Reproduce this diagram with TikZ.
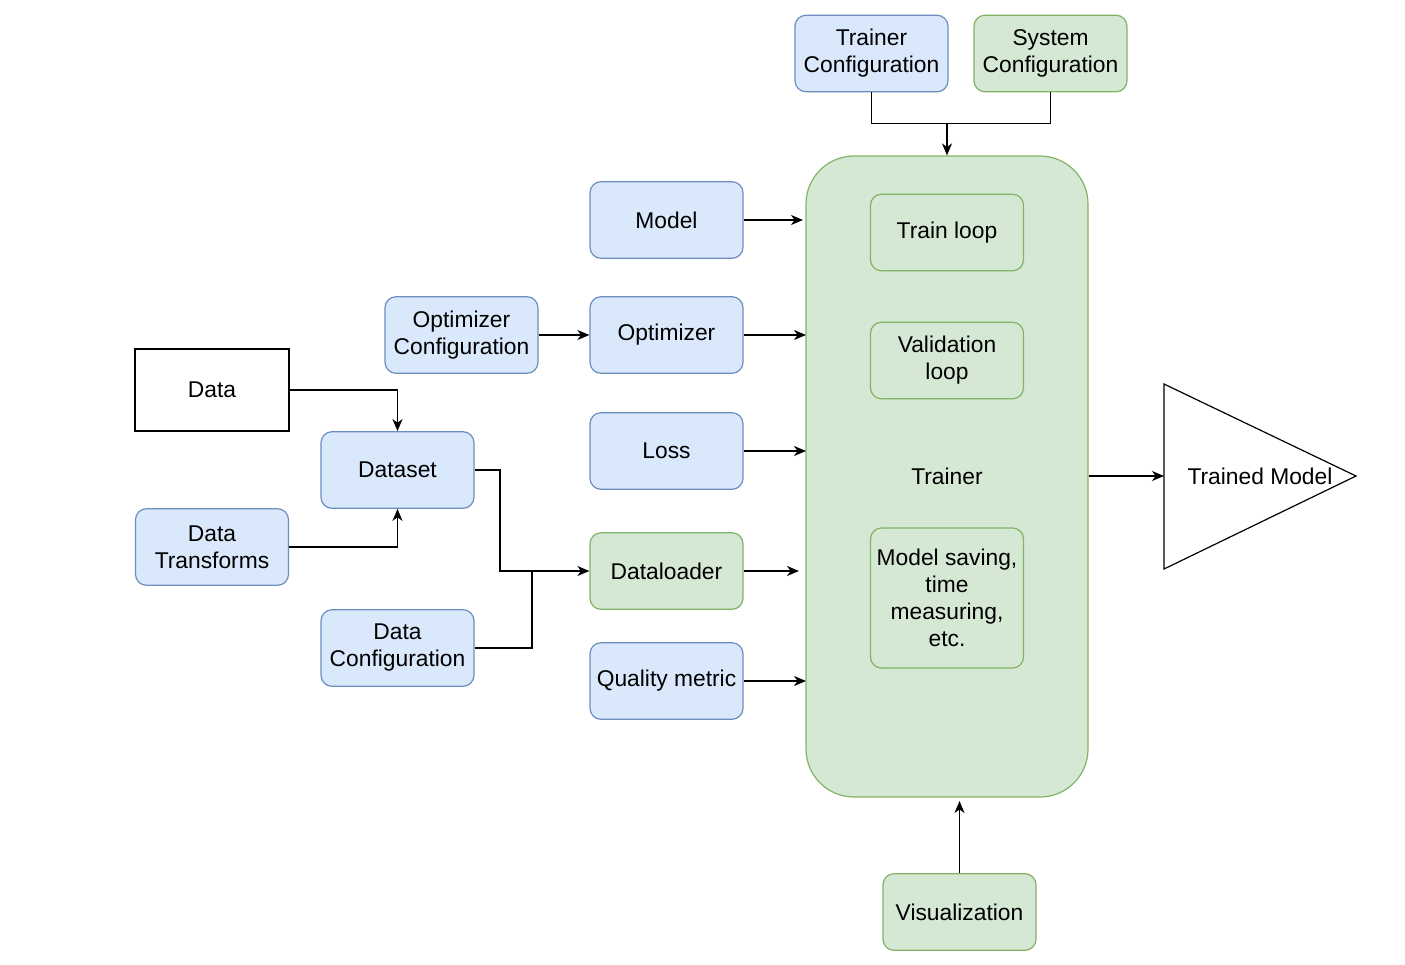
\documentclass[tikz,border=0pt]{standalone}
\usepackage{fontspec}
\setmainfont{Liberation Sans}
\usetikzlibrary{arrows.meta,positioning}
\definecolor{bluefill}{HTML}{DAE8FC}
\definecolor{bluedraw}{HTML}{6C8EBF}
\definecolor{greenfill}{HTML}{D5E8D4}
\definecolor{greendraw}{HTML}{82B366}
\begin{document}
\begin{tikzpicture}[x=0.5pt,y=-0.5pt,
  every node/.style={font=\fontsize{11.4}{13.5}\selectfont, align=center, inner sep=0pt},
  box/.style={rounded corners=5.5pt, line width=0.6pt, minimum width=76.5pt, minimum height=38.3pt},
  bluebox/.style={box, fill=bluefill, draw=bluedraw},
  greenbox/.style={box, fill=greenfill, draw=greendraw},
  link/.style={line width=0.65pt, -{Stealth[length=6pt,width=5pt,inset=1.8pt]}},
  plain/.style={line width=0.65pt}]
\useasboundingbox (0,0) rectangle (1405,965);

% trainer block and its inner stages
\node[fill=greenfill, draw=greendraw, line width=0.6pt, rounded corners=24pt,
      minimum width=141pt, minimum height=320.5pt] (trainer) at (947,476.5) {Trainer};
\node[greenbox] (train) at (947,232.5) {Train loop};
\node[greenbox] (valid) at (947,360.5) {Validation\\loop};
\node[greenbox, minimum height=70pt] (saving) at (947,598) {Model saving,\\time\\measuring,\\etc.};

% configurations feeding the trainer
\node[bluebox] (tconf) at (871.5,53.5) {Trainer\\Configuration};
\node[greenbox] (sconf) at (1050.5,53.5) {System\\Configuration};
\coordinate (join) at (947,123.5);
\draw[plain] (tconf.south) |- (join);
\draw[plain] (sconf.south) |- (join);
\draw[link] (join) -- (trainer.north);

% components
\node[bluebox] (model) at (666.5,220) {Model};
\node[bluebox] (optim) at (666.5,335) {Optimizer};
\node[bluebox] (oconf) at (461.5,335) {Optimizer\\Configuration};
\node[bluebox] (loss) at (666.5,451) {Loss};
\node[greenbox] (loader) at (666.5,571) {Dataloader};
\node[bluebox] (metric) at (666.5,681) {Quality metric};

\coordinate (mIn) at (803,220);
\coordinate (oIn) at (806,335);
\coordinate (lIn) at (806,451);
\coordinate (dIn) at (799,571);
\coordinate (qIn) at (806,681);
\draw[link] (model.east) -- (mIn);
\draw[link] (optim.east) -- (oIn);
\draw[link] (loss.east) -- (lIn);
\draw[link] (loader.east) -- (dIn);
\draw[link] (metric.east) -- (qIn);
\draw[link] (oconf.east) -- (optim.west);

% data pipeline
\node[draw, line width=0.6pt, minimum width=77pt, minimum height=41pt] (data) at (212,390) {Data};
\node[bluebox] (dataset) at (397.5,470) {Dataset};
\node[bluebox] (trans) at (212,547) {Data\\Transforms};
\node[bluebox] (dconf) at (397.5,648) {Data\\Configuration};

\draw[link] (data.east) -| (dataset.north);
\draw[link] (trans.east) -| (dataset.south);
\coordinate (merge) at (532,571);
\draw[link] (dataset.east) -- (500,470) |- (loader.west);
\draw[plain] (dconf.east) -| (merge);

% output
\coordinate (tm) at (1164,476);
\draw[line width=0.6pt] (1164,384) -- (1356,476) -- (1164,569) -- cycle;
\node (tmlabel) at (1260,476) {Trained Model};
\draw[link] (trainer.east |- tm) -- (tm);

% visualization
\node[greenbox] (vis) at (959.5,912) {Visualization};
\coordinate (vIn) at (959.5,801);
\draw[link] (vis.north) -- (vIn);
\end{tikzpicture}
\end{document}
